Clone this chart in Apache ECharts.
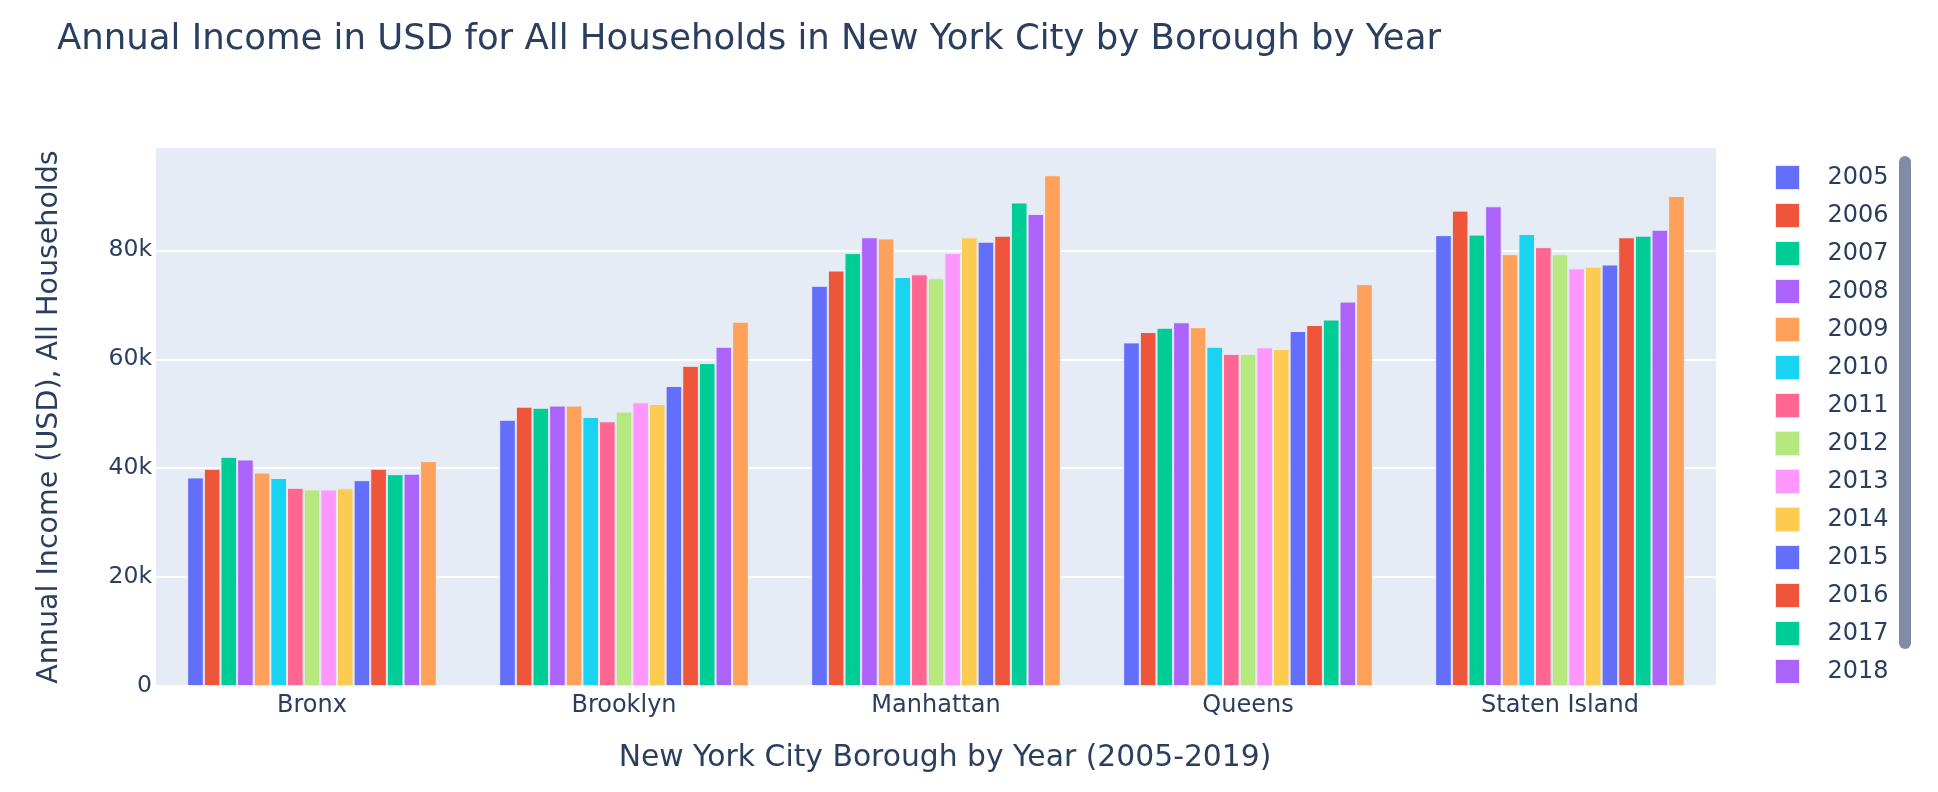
<!DOCTYPE html>
<html>
<head>
<meta charset="utf-8">
<script src="https://cdn.jsdelivr.net/npm/echarts@6/dist/echarts.min.js"></script>
<style>html,body{margin:0;padding:0;background:#fff;}#c{width:1938px;height:792px;}</style>
</head>
<body>
<div id="c"></div>
<script>
const boroughs = ['Bronx', 'Brooklyn', 'Manhattan', 'Queens', 'Staten Island'];
const years = ['2005','2006','2007','2008','2009','2010','2011','2012','2013','2014','2015','2016','2017','2018','2019'];
const legendYears = years.slice(0, 14);
const bronx =        [38300, 39900, 42100, 41600, 39200, 38200, 36400, 36100, 36100, 36300, 37800, 39900, 38900, 39000, 41300];
const brooklyn =     [48900, 51300, 51100, 51500, 51500, 49400, 48600, 50400, 52100, 51800, 55100, 58800, 59300, 62300, 66900];
const manhattan =    [73500, 76300, 79500, 82400, 82200, 75100, 75600, 74900, 79500, 82400, 81600, 82700, 88800, 86700, 93800];
const queens =       [63100, 65000, 65800, 66800, 65900, 62300, 61000, 61000, 62200, 61900, 65200, 66300, 67300, 70600, 73800];
const statenIsland = [82800, 87300, 82900, 88100, 79300, 83000, 80600, 79300, 76700, 77000, 77400, 82400, 82700, 83800, 90000];
const palette = ['#636EFA','#EF553B','#00CC96','#AB63FA','#FFA15A','#19D3F3','#FF6692','#B6E880','#FF97FF','#FECB52'];

const byBorough = [bronx, brooklyn, manhattan, queens, statenIsland];
const FONT = '"DejaVu Sans", Verdana, sans-serif';
const TXT = '#2a3f5f';

const series = years.map((y, i) => ({
  name: y,
  type: 'bar',
  barGap: '0%',
  barCategoryGap: '20%',
  itemStyle: { color: palette[i % palette.length], borderColor: '#E5ECF6', borderWidth: 1 },
  data: byBorough.map(arr => arr[i])
}));

const chart = echarts.init(document.getElementById('c'), null, { renderer: 'canvas' });
chart.setOption({
  animation: false,
  textStyle: { fontFamily: FONT },
  title: {
    text: 'Annual Income in USD for All Households in New York City by Borough by Year',
    left: 52, top: 17,
    textStyle: { fontFamily: FONT, fontSize: 35.5, fontWeight: 'normal', color: TXT }
  },
  grid: {
    left: 156, right: 222, top: 148, bottom: 106,
    show: true, backgroundColor: '#E5ECF6', borderWidth: 0
  },
  legend: {
    orient: 'vertical',
    left: 1775, top: 165,
    padding: 0,
    data: legendYears,
    itemWidth: 24, itemHeight: 24, itemGap: 13,
    icon: 'rect',
    itemStyle: { borderColor: '#E5ECF6', borderWidth: 1 },
    textStyle: { fontFamily: FONT, fontSize: 24, lineHeight: 24, color: TXT, padding: [0, 0, 0, 23] }
  },
  xAxis: {
    type: 'category',
    data: boroughs,
    axisLine: { show: false },
    axisTick: { show: false },
    axisLabel: { fontFamily: FONT, fontSize: 24, color: TXT, margin: 8 },
    name: 'New York City Borough by Year (2005-2019)',
    nameLocation: 'middle',
    nameGap: 57,
    nameTextStyle: { fontFamily: FONT, fontSize: 29.8, color: TXT, padding: [0, 0, 0, 18] }
  },
  yAxis: {
    type: 'value',
    min: 0, max: 98800, interval: 20000,
    axisLine: { show: false },
    axisTick: { show: false },
    splitLine: { show: true, showMaxLine: false, lineStyle: { color: '#ffffff', width: 2 } },
    axisLabel: {
      fontFamily: FONT, fontSize: 23.5, color: TXT, margin: 4, showMaxLabel: false,
      formatter: v => v === 0 ? '0' : (v / 1000) + 'k'
    },
    name: 'Annual Income (USD), All Households',
    nameLocation: 'middle',
    nameGap: 92,
    nameTextStyle: { fontFamily: FONT, fontSize: 28.5, color: TXT }
  },
  graphic: [{
    type: 'rect',
    shape: { x: 1899, y: 156, width: 12, height: 493, r: 6 },
    style: { fill: '#808BA4' },
    silent: true
  }],
  series: series
});
</script>
</body>
</html>
